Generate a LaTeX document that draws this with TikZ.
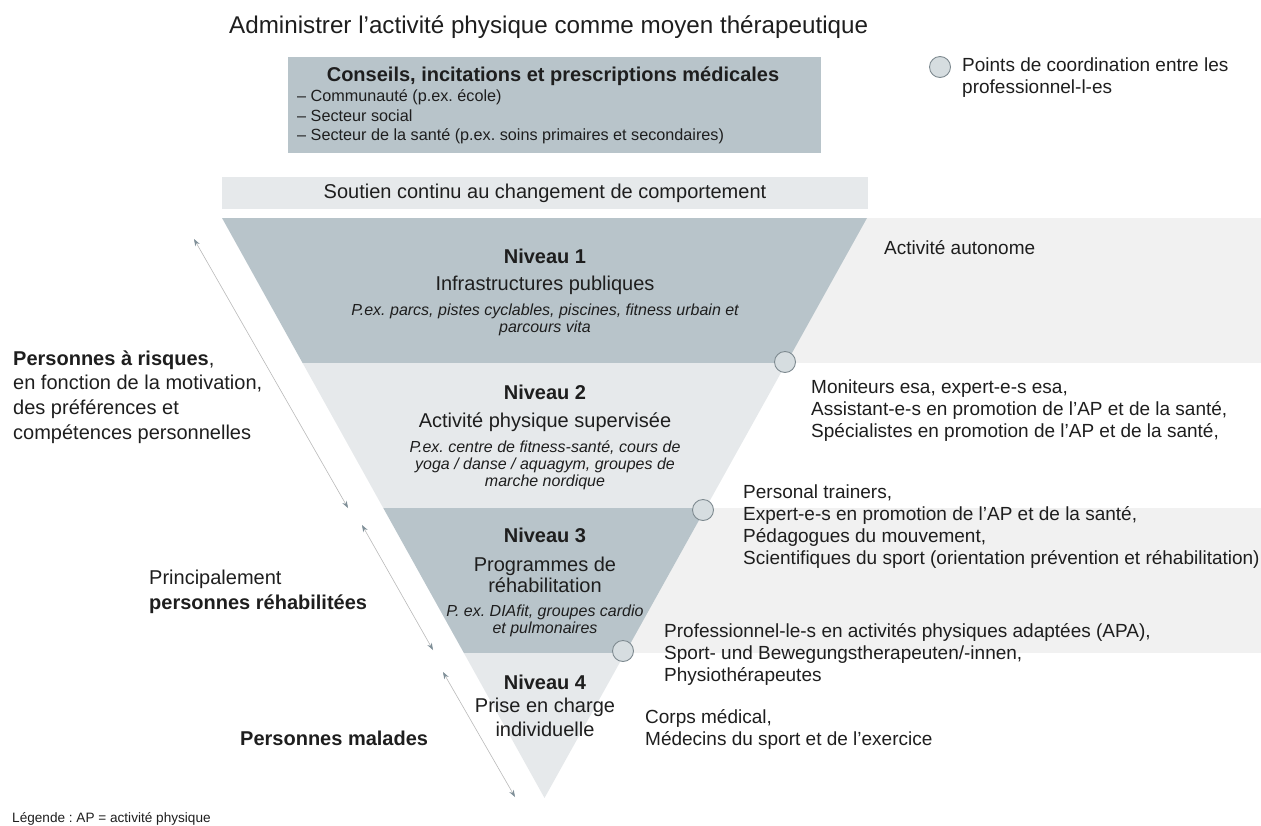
\documentclass[tikz,border=0pt]{standalone}
\usepackage{fontspec}
\setmainfont{Liberation Sans}
\frenchspacing
\usetikzlibrary{arrows.meta}
\definecolor{dark}{HTML}{B8C4CA}
\definecolor{pale}{HTML}{E6E9EB}
\definecolor{band}{HTML}{F1F1F1}
\definecolor{ink}{HTML}{1E1E1E}
\definecolor{ring}{HTML}{7E8A90}
\definecolor{dot}{HTML}{D6DDE0}
\definecolor{tip}{HTML}{7F8F98}
\begin{document}
\begin{tikzpicture}
      [x=1pt, y=-1pt,
       every node/.style={inner sep=0pt, text=ink},
       head/.style={font=\fontsize{20}{24}\selectfont\bfseries},
       lvl/.style={align=center, font=\fontsize{20}{21}\selectfont},
       ex/.style={align=center, font=\fontsize{16}{17}\selectfont\itshape},
       side/.style={anchor=west, align=left, font=\fontsize{19}{22}\selectfont},
       who/.style={anchor=west, align=left, font=\fontsize{20}{24.6}\selectfont},
       coord/.style={circle, draw=ring, fill=dot, line width=0.9pt, minimum size=21pt},
       span/.style={{Stealth[length=7pt,width=5pt,color=tip]}-{Stealth[length=7pt,width=5pt,color=tip]},
                    draw=gray!55, line width=0.6pt}]
      \useasboundingbox (0,0) rectangle (1261,825);

      \fill[band] (544,218) rectangle (1261,363);
      \fill[band] (544,508) rectangle (1261,653);
      \fill[dark] (222,218) -- (867,218) -- (786.4,363) -- (302.6,363) -- cycle;
      \fill[pale] (302.6,363) -- (786.4,363) -- (705.75,508) -- (383.25,508) -- cycle;
      \fill[dark] (383.25,508) -- (705.75,508) -- (625.1,653) -- (463.9,653) -- cycle;
      \fill[pale] (463.9,653) -- (625.1,653) -- (544.5,798) -- cycle;

      \node [anchor=base west, font=\fontsize{24.2}{29}\selectfont] (title) at (229,33)
            {Administrer l’activité physique comme moyen thérapeutique};

      \node [fill=dark, anchor=north west, minimum width=533pt, minimum height=96pt] (advice) at (288,57) {};
      \node [head] (advhead) at (553,76) {Conseils, incitations et prescriptions médicales};
      \node [anchor=west, align=left, font=\fontsize{16.2}{19.5}\selectfont] (advlist) at (297,117)
            {– Communauté (p.ex. école)\\– Secteur social\\– Secteur de la santé (p.ex. soins primaires et secondaires)};

      \node [fill=pale, minimum width=646pt, minimum height=32pt, font=\fontsize{20}{24}\selectfont] (support) at (545,193)
            {Soutien continu au changement de comportement};

      \node [coord] (key) at (940,67) {};
      \node [side] (keytext) at (962,78) {Points de coordination entre les\\professionnel-l-es};

      \node [head] (l1) at (545,256) {Niveau 1};
      \node [lvl] (l1name) at (545,285) {Infrastructures publiques};
      \node [ex] (l1ex) at (545,320) {P.ex. parcs, pistes cyclables, piscines, fitness urbain et\\parcours vita};

      \node [head] (l2) at (545,392) {Niveau 2};
      \node [lvl] (l2name) at (545,422) {Activité physique supervisée};
      \node [ex] (l2ex) at (545,465) {P.ex. centre de fitness-santé, cours de\\yoga / danse / aquagym, groupes de\\marche nordique};

      \node [head] (l3) at (545,535) {Niveau 3};
      \node [lvl] (l3name) at (545,575) {Programmes de\\réhabilitation};
      \node [ex] (l3ex) at (545,621) {P. ex. DIAfit, groupes cardio\\et pulmonaires};

      \node [head] (l4) at (545,682) {Niveau 4};
      \node [lvl, font=\fontsize{20}{24}\selectfont] (l4name) at (545,717) {Prise en charge\\individuelle};

      \node [coord] (c1) at (785,362) {};
      \node [coord] (c2) at (703,510) {};
      \node [coord] (c3) at (623,651) {};

      \node [side] (auto) at (884,248) {Activité autonome};
      \node [side] (pro2) at (811,411)
            {Moniteurs esa, expert-e-s esa,\\Assistant-e-s en promotion de l’AP et de la santé,\\Spécialistes en promotion de l’AP et de la santé,};
      \node [side] (pro3) at (743,527)
            {Personal trainers,\\Expert-e-s en promotion de l’AP et de la santé,\\Pédagogues du mouvement,\\Scientifiques du sport (orientation prévention et réhabilitation)};
      \node [side] (pro4) at (664,654)
            {Professionnel-le-s en activités physiques adaptées (APA),\\Sport- und Bewegungstherapeuten/-innen,\\Physiothérapeutes};
      \node [side] (med) at (645,729) {Corps médical,\\Médecins du sport et de l’exercice};

      \node [who] (risk) at (13,397)
            {\textbf{Personnes à risques},\\en fonction de la motivation,\\des préférences et\\compétences personnelles};
      \node [who] (rehab) at (149,592) {Principalement\\\textbf{personnes réhabilitées}};
      \node [who, font=\fontsize{20}{24}\selectfont\bfseries] (ill) at (240,738) {Personnes malades};
      \node [anchor=west, font=\fontsize{13.6}{15}\selectfont] (legend) at (12,819) {Légende : AP = activité physique};

      \coordinate (a1) at (194,239);
      \coordinate (b1) at (348,508);
      \coordinate (a2) at (362,525);
      \coordinate (b2) at (433,650);
      \coordinate (a3) at (443,672);
      \coordinate (b3) at (515,797);

      \foreach \from/\to in {a1/b1, a2/b2, a3/b3}
      \draw [span] (\from) -- (\to);
    \end{tikzpicture}
\end{document}
